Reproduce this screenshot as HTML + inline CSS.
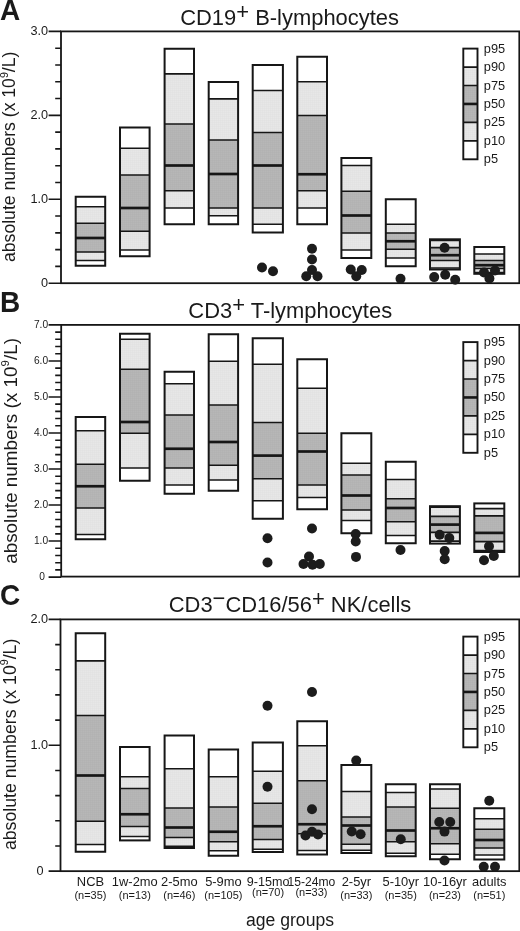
<!DOCTYPE html>
<html lang="en"><head><meta charset="utf-8"><title>Lymphocyte subpopulations by age group</title>
<style>html,body{margin:0;padding:0;background:#fff}body{width:520px;height:931px;overflow:hidden}svg{display:block;filter:grayscale(1)}text{font-family:"Liberation Sans", Arial, Helvetica, sans-serif;fill:#1a1a1a}</style></head><body>
<svg width="520" height="931" viewBox="0 0 520 931">
<rect width="520" height="931" fill="#fff"/>
<defs><pattern id="lg" width="2" height="2" patternUnits="userSpaceOnUse"><rect width="2" height="2" fill="#e7e7e7"/><path d="M0 0.25H2M0.25 0V2" stroke="#dedede" stroke-width="0.5"/></pattern><pattern id="dg" width="2" height="2" patternUnits="userSpaceOnUse"><rect width="2" height="2" fill="#b7b7b7"/><path d="M0 0.25H2M0.25 0V2" stroke="#aeaeae" stroke-width="0.5"/></pattern></defs>
<g id="panel-A">
<rect x="61.00" y="31.40" width="458.30" height="251.80" fill="none" stroke="#161616" stroke-width="1.8"/>
<path d="M48.6 283.20H61.00M55.2 266.41H61.00M55.2 249.63H61.00M55.2 232.84H61.00M55.2 216.05H61.00M48.6 199.27H61.00M55.2 182.48H61.00M55.2 165.69H61.00M55.2 148.91H61.00M55.2 132.12H61.00M48.6 115.33H61.00M55.2 98.55H61.00M55.2 81.76H61.00M55.2 64.97H61.00M55.2 48.19H61.00M48.6 31.40H61.00" stroke="#161616" stroke-width="1.6" fill="none"/>
<text transform="translate(48.10 35.16) scale(1 1.07)" font-size="12.7" text-anchor="end">3.0</text>
<text transform="translate(48.10 119.10) scale(1 1.07)" font-size="12.7" text-anchor="end">2.0</text>
<text transform="translate(48.10 203.03) scale(1 1.07)" font-size="12.7" text-anchor="end">1.0</text>
<text transform="translate(48.10 286.96) scale(1 1.07)" font-size="12.7" text-anchor="end">0</text>
<rect x="75.70" y="196.75" width="29.50" height="10.00" fill="#fff"/>
<rect x="75.70" y="206.75" width="29.50" height="16.50" fill="url(#lg)"/>
<rect x="75.70" y="223.25" width="29.50" height="14.75" fill="url(#dg)"/>
<rect x="75.70" y="238.00" width="29.50" height="14.00" fill="url(#dg)"/>
<rect x="75.70" y="252.00" width="29.50" height="8.50" fill="url(#lg)"/>
<rect x="75.70" y="260.50" width="29.50" height="5.25" fill="#fff"/>
<path d="M75.70 206.75h29.50M75.70 223.25h29.50M75.70 252.00h29.50M75.70 260.50h29.50" stroke="#161616" stroke-width="1.7" fill="none"/>
<path d="M75.70 238.00h29.50" stroke="#161616" stroke-width="2.7" fill="none"/>
<rect x="75.70" y="196.75" width="29.50" height="69.00" fill="none" stroke="#161616" stroke-width="2"/>
<rect x="120.00" y="127.50" width="29.60" height="20.75" fill="#fff"/>
<rect x="120.00" y="148.25" width="29.60" height="26.75" fill="url(#lg)"/>
<rect x="120.00" y="175.00" width="29.60" height="33.00" fill="url(#dg)"/>
<rect x="120.00" y="208.00" width="29.60" height="23.25" fill="url(#dg)"/>
<rect x="120.00" y="231.25" width="29.60" height="18.75" fill="url(#lg)"/>
<rect x="120.00" y="250.00" width="29.60" height="6.25" fill="#fff"/>
<path d="M120.00 148.25h29.60M120.00 175.00h29.60M120.00 231.25h29.60M120.00 250.00h29.60" stroke="#161616" stroke-width="1.7" fill="none"/>
<path d="M120.00 208.00h29.60" stroke="#161616" stroke-width="2.7" fill="none"/>
<rect x="120.00" y="127.50" width="29.60" height="128.75" fill="none" stroke="#161616" stroke-width="2"/>
<rect x="164.60" y="48.75" width="29.40" height="25.15" fill="#fff"/>
<rect x="164.60" y="73.90" width="29.40" height="50.10" fill="url(#lg)"/>
<rect x="164.60" y="124.00" width="29.40" height="41.50" fill="url(#dg)"/>
<rect x="164.60" y="165.50" width="29.40" height="25.25" fill="url(#dg)"/>
<rect x="164.60" y="190.75" width="29.40" height="17.25" fill="url(#lg)"/>
<rect x="164.60" y="208.00" width="29.40" height="16.25" fill="#fff"/>
<path d="M164.60 73.90h29.40M164.60 124.00h29.40M164.60 190.75h29.40M164.60 208.00h29.40" stroke="#161616" stroke-width="1.7" fill="none"/>
<path d="M164.60 165.50h29.40" stroke="#161616" stroke-width="2.7" fill="none"/>
<rect x="164.60" y="48.75" width="29.40" height="175.50" fill="none" stroke="#161616" stroke-width="2"/>
<rect x="208.70" y="82.00" width="29.40" height="16.80" fill="#fff"/>
<rect x="208.70" y="98.80" width="29.40" height="41.20" fill="url(#lg)"/>
<rect x="208.70" y="140.00" width="29.40" height="34.00" fill="url(#dg)"/>
<rect x="208.70" y="174.00" width="29.40" height="34.00" fill="url(#dg)"/>
<rect x="208.70" y="208.00" width="29.40" height="7.75" fill="url(#lg)"/>
<rect x="208.70" y="215.75" width="29.40" height="8.50" fill="#fff"/>
<path d="M208.70 98.80h29.40M208.70 140.00h29.40M208.70 208.00h29.40M208.70 215.75h29.40" stroke="#161616" stroke-width="1.7" fill="none"/>
<path d="M208.70 174.00h29.40" stroke="#161616" stroke-width="2.7" fill="none"/>
<rect x="208.70" y="82.00" width="29.40" height="142.25" fill="none" stroke="#161616" stroke-width="2"/>
<rect x="252.70" y="65.00" width="30.20" height="25.50" fill="#fff"/>
<rect x="252.70" y="90.50" width="30.20" height="42.00" fill="url(#lg)"/>
<rect x="252.70" y="132.50" width="30.20" height="33.00" fill="url(#dg)"/>
<rect x="252.70" y="165.50" width="30.20" height="42.50" fill="url(#dg)"/>
<rect x="252.70" y="208.00" width="30.20" height="16.25" fill="url(#lg)"/>
<rect x="252.70" y="224.25" width="30.20" height="8.25" fill="#fff"/>
<path d="M252.70 90.50h30.20M252.70 132.50h30.20M252.70 208.00h30.20M252.70 224.25h30.20" stroke="#161616" stroke-width="1.7" fill="none"/>
<path d="M252.70 165.50h30.20" stroke="#161616" stroke-width="2.7" fill="none"/>
<rect x="252.70" y="65.00" width="30.20" height="167.50" fill="none" stroke="#161616" stroke-width="2"/>
<rect x="297.30" y="56.75" width="29.70" height="25.00" fill="#fff"/>
<rect x="297.30" y="81.75" width="29.70" height="33.75" fill="url(#lg)"/>
<rect x="297.30" y="115.50" width="29.70" height="58.75" fill="url(#dg)"/>
<rect x="297.30" y="174.25" width="29.70" height="16.50" fill="url(#dg)"/>
<rect x="297.30" y="190.75" width="29.70" height="17.25" fill="url(#lg)"/>
<rect x="297.30" y="208.00" width="29.70" height="16.25" fill="#fff"/>
<path d="M297.30 81.75h29.70M297.30 115.50h29.70M297.30 190.75h29.70M297.30 208.00h29.70" stroke="#161616" stroke-width="1.7" fill="none"/>
<path d="M297.30 174.25h29.70" stroke="#161616" stroke-width="2.7" fill="none"/>
<rect x="297.30" y="56.75" width="29.70" height="167.50" fill="none" stroke="#161616" stroke-width="2"/>
<rect x="341.40" y="158.00" width="29.90" height="7.50" fill="#fff"/>
<rect x="341.40" y="165.50" width="29.90" height="25.75" fill="url(#lg)"/>
<rect x="341.40" y="191.25" width="29.90" height="24.25" fill="url(#dg)"/>
<rect x="341.40" y="215.50" width="29.90" height="17.50" fill="url(#dg)"/>
<rect x="341.40" y="233.00" width="29.90" height="17.00" fill="url(#lg)"/>
<rect x="341.40" y="250.00" width="29.90" height="8.00" fill="#fff"/>
<path d="M341.40 165.50h29.90M341.40 191.25h29.90M341.40 233.00h29.90M341.40 250.00h29.90" stroke="#161616" stroke-width="1.7" fill="none"/>
<path d="M341.40 215.50h29.90" stroke="#161616" stroke-width="2.7" fill="none"/>
<rect x="341.40" y="158.00" width="29.90" height="100.00" fill="none" stroke="#161616" stroke-width="2"/>
<rect x="385.80" y="199.25" width="29.90" height="25.00" fill="#fff"/>
<rect x="385.80" y="224.25" width="29.90" height="8.75" fill="url(#lg)"/>
<rect x="385.80" y="233.00" width="29.90" height="8.25" fill="url(#dg)"/>
<rect x="385.80" y="241.25" width="29.90" height="8.00" fill="url(#dg)"/>
<rect x="385.80" y="249.25" width="29.90" height="8.75" fill="url(#lg)"/>
<rect x="385.80" y="258.00" width="29.90" height="8.25" fill="#fff"/>
<path d="M385.80 224.25h29.90M385.80 233.00h29.90M385.80 249.25h29.90M385.80 258.00h29.90" stroke="#161616" stroke-width="1.7" fill="none"/>
<path d="M385.80 241.25h29.90" stroke="#161616" stroke-width="2.7" fill="none"/>
<rect x="385.80" y="199.25" width="29.90" height="67.00" fill="none" stroke="#161616" stroke-width="2"/>
<rect x="430.00" y="239.30" width="29.90" height="1.20" fill="#fff"/>
<rect x="430.00" y="240.50" width="29.90" height="7.20" fill="url(#lg)"/>
<rect x="430.00" y="247.70" width="29.90" height="7.50" fill="url(#dg)"/>
<rect x="430.00" y="255.20" width="29.90" height="5.30" fill="url(#dg)"/>
<rect x="430.00" y="260.50" width="29.90" height="7.50" fill="url(#lg)"/>
<rect x="430.00" y="268.00" width="29.90" height="1.50" fill="#fff"/>
<path d="M430.00 240.50h29.90M430.00 247.70h29.90M430.00 260.50h29.90M430.00 268.00h29.90" stroke="#161616" stroke-width="1.7" fill="none"/>
<path d="M430.00 255.20h29.90" stroke="#161616" stroke-width="2.7" fill="none"/>
<rect x="430.00" y="239.30" width="29.90" height="30.20" fill="none" stroke="#161616" stroke-width="2"/>
<rect x="474.30" y="247.00" width="30.00" height="7.00" fill="#fff"/>
<rect x="474.30" y="254.00" width="30.00" height="6.50" fill="url(#lg)"/>
<rect x="474.30" y="260.50" width="30.00" height="4.70" fill="url(#dg)"/>
<rect x="474.30" y="265.20" width="30.00" height="3.30" fill="url(#dg)"/>
<rect x="474.30" y="268.50" width="30.00" height="4.00" fill="url(#lg)"/>
<rect x="474.30" y="272.50" width="30.00" height="1.30" fill="#fff"/>
<path d="M474.30 254.00h30.00M474.30 260.50h30.00M474.30 268.50h30.00M474.30 272.50h30.00" stroke="#161616" stroke-width="1.7" fill="none"/>
<path d="M474.30 265.20h30.00" stroke="#161616" stroke-width="2.7" fill="none"/>
<rect x="474.30" y="247.00" width="30.00" height="26.80" fill="none" stroke="#161616" stroke-width="2"/>
<circle cx="262.00" cy="267.50" r="5" fill="#1c1c1c"/>
<circle cx="273.00" cy="271.25" r="5" fill="#1c1c1c"/>
<circle cx="312.00" cy="248.75" r="5" fill="#1c1c1c"/>
<circle cx="312.00" cy="259.50" r="5" fill="#1c1c1c"/>
<circle cx="312.00" cy="270.00" r="5" fill="#1c1c1c"/>
<circle cx="306.25" cy="276.25" r="5" fill="#1c1c1c"/>
<circle cx="317.50" cy="276.25" r="5" fill="#1c1c1c"/>
<circle cx="350.75" cy="269.50" r="5" fill="#1c1c1c"/>
<circle cx="361.75" cy="270.00" r="5" fill="#1c1c1c"/>
<circle cx="356.25" cy="276.25" r="5" fill="#1c1c1c"/>
<circle cx="400.50" cy="278.75" r="5" fill="#1c1c1c"/>
<circle cx="444.60" cy="247.80" r="5" fill="#1c1c1c"/>
<circle cx="434.20" cy="277.10" r="5" fill="#1c1c1c"/>
<circle cx="445.20" cy="274.80" r="5" fill="#1c1c1c"/>
<circle cx="455.20" cy="279.80" r="5" fill="#1c1c1c"/>
<circle cx="484.00" cy="272.50" r="5" fill="#1c1c1c"/>
<circle cx="495.00" cy="270.50" r="5" fill="#1c1c1c"/>
<circle cx="489.40" cy="278.40" r="5" fill="#1c1c1c"/>
<rect x="463.30" y="48.60" width="14.20" height="18.45" fill="#fff"/>
<rect x="463.30" y="67.05" width="14.20" height="18.45" fill="url(#lg)"/>
<rect x="463.30" y="85.50" width="14.20" height="18.45" fill="url(#dg)"/>
<rect x="463.30" y="103.95" width="14.20" height="18.45" fill="url(#dg)"/>
<rect x="463.30" y="122.40" width="14.20" height="18.45" fill="url(#lg)"/>
<rect x="463.30" y="140.85" width="14.20" height="18.45" fill="#fff"/>
<path d="M463.30 67.05h14.20M463.30 85.50h14.20M463.30 122.40h14.20M463.30 140.85h14.20" stroke="#161616" stroke-width="1.7" fill="none"/>
<path d="M463.30 103.95h14.20" stroke="#161616" stroke-width="2.6" fill="none"/>
<rect x="463.30" y="48.60" width="14.20" height="110.70" fill="none" stroke="#161616" stroke-width="1.9"/>
<text transform="translate(483.8 52.60) scale(1 1.05)" font-size="12.8">p95</text>
<text transform="translate(483.8 71.05) scale(1 1.05)" font-size="12.8">p90</text>
<text transform="translate(483.8 89.50) scale(1 1.05)" font-size="12.8">p75</text>
<text transform="translate(483.8 107.95) scale(1 1.05)" font-size="12.8">p50</text>
<text transform="translate(483.8 126.40) scale(1 1.05)" font-size="12.8">p25</text>
<text transform="translate(483.8 144.85) scale(1 1.05)" font-size="12.8">p10</text>
<text transform="translate(483.8 163.30) scale(1 1.05)" font-size="12.8">p5</text>
<text transform="translate(15.40 156.80) rotate(-90)" font-size="17.6" text-anchor="middle">absolute numbers (x 10<tspan font-size="10.6" dy="-7.6">9</tspan><tspan dy="7.6">/L)</tspan></text>
</g>
<g id="panel-B">
<rect x="61.20" y="324.90" width="458.10" height="251.70" fill="none" stroke="#161616" stroke-width="1.8"/>
<path d="M48.6 577.10H61.20M55.2 569.89H61.20M55.2 562.69H61.20M55.2 555.48H61.20M55.2 548.28H61.20M48.6 541.07H61.20M55.2 533.87H61.20M55.2 526.66H61.20M55.2 519.45H61.20M55.2 512.25H61.20M48.6 505.04H61.20M55.2 497.84H61.20M55.2 490.63H61.20M55.2 483.43H61.20M55.2 476.22H61.20M48.6 469.01H61.20M55.2 461.81H61.20M55.2 454.60H61.20M55.2 447.40H61.20M55.2 440.19H61.20M48.6 432.99H61.20M55.2 425.78H61.20M55.2 418.57H61.20M55.2 411.37H61.20M55.2 404.16H61.20M48.6 396.96H61.20M55.2 389.75H61.20M55.2 382.55H61.20M55.2 375.34H61.20M55.2 368.13H61.20M48.6 360.93H61.20M55.2 353.72H61.20M55.2 346.52H61.20M55.2 339.31H61.20M55.2 332.11H61.20M48.6 324.90H61.20" stroke="#161616" stroke-width="1.6" fill="none"/>
<text transform="translate(48.10 327.71) scale(1 1.07)" font-size="10.2" text-anchor="end">7.0</text>
<text transform="translate(48.10 363.74) scale(1 1.07)" font-size="10.2" text-anchor="end">6.0</text>
<text transform="translate(48.10 399.76) scale(1 1.07)" font-size="10.2" text-anchor="end">5.0</text>
<text transform="translate(48.10 435.79) scale(1 1.07)" font-size="10.2" text-anchor="end">4.0</text>
<text transform="translate(48.10 471.82) scale(1 1.07)" font-size="10.2" text-anchor="end">3.0</text>
<text transform="translate(48.10 507.85) scale(1 1.07)" font-size="10.2" text-anchor="end">2.0</text>
<text transform="translate(48.10 543.88) scale(1 1.07)" font-size="10.2" text-anchor="end">1.0</text>
<text transform="translate(44.80 579.91) scale(1 1.07)" font-size="10.2" text-anchor="end">0</text>
<rect x="75.70" y="417.00" width="29.50" height="13.75" fill="#fff"/>
<rect x="75.70" y="430.75" width="29.50" height="33.50" fill="url(#lg)"/>
<rect x="75.70" y="464.25" width="29.50" height="22.00" fill="url(#dg)"/>
<rect x="75.70" y="486.25" width="29.50" height="21.75" fill="url(#dg)"/>
<rect x="75.70" y="508.00" width="29.50" height="26.50" fill="url(#lg)"/>
<rect x="75.70" y="534.50" width="29.50" height="4.75" fill="#fff"/>
<path d="M75.70 430.75h29.50M75.70 464.25h29.50M75.70 508.00h29.50M75.70 534.50h29.50" stroke="#161616" stroke-width="1.7" fill="none"/>
<path d="M75.70 486.25h29.50" stroke="#161616" stroke-width="2.7" fill="none"/>
<rect x="75.70" y="417.00" width="29.50" height="122.25" fill="none" stroke="#161616" stroke-width="2"/>
<rect x="120.00" y="333.75" width="29.60" height="5.50" fill="#fff"/>
<rect x="120.00" y="339.25" width="29.60" height="30.00" fill="url(#lg)"/>
<rect x="120.00" y="369.25" width="29.60" height="52.75" fill="url(#dg)"/>
<rect x="120.00" y="422.00" width="29.60" height="11.25" fill="url(#dg)"/>
<rect x="120.00" y="433.25" width="29.60" height="34.75" fill="url(#lg)"/>
<rect x="120.00" y="468.00" width="29.60" height="12.75" fill="#fff"/>
<path d="M120.00 339.25h29.60M120.00 369.25h29.60M120.00 433.25h29.60M120.00 468.00h29.60" stroke="#161616" stroke-width="1.7" fill="none"/>
<path d="M120.00 422.00h29.60" stroke="#161616" stroke-width="2.7" fill="none"/>
<rect x="120.00" y="333.75" width="29.60" height="147.00" fill="none" stroke="#161616" stroke-width="2"/>
<rect x="164.60" y="371.75" width="29.40" height="12.00" fill="#fff"/>
<rect x="164.60" y="383.75" width="29.40" height="31.25" fill="url(#lg)"/>
<rect x="164.60" y="415.00" width="29.40" height="33.75" fill="url(#dg)"/>
<rect x="164.60" y="448.75" width="29.40" height="19.25" fill="url(#dg)"/>
<rect x="164.60" y="468.00" width="29.40" height="17.00" fill="url(#lg)"/>
<rect x="164.60" y="485.00" width="29.40" height="8.75" fill="#fff"/>
<path d="M164.60 383.75h29.40M164.60 415.00h29.40M164.60 468.00h29.40M164.60 485.00h29.40" stroke="#161616" stroke-width="1.7" fill="none"/>
<path d="M164.60 448.75h29.40" stroke="#161616" stroke-width="2.7" fill="none"/>
<rect x="164.60" y="371.75" width="29.40" height="122.00" fill="none" stroke="#161616" stroke-width="2"/>
<rect x="208.70" y="334.25" width="29.40" height="27.00" fill="#fff"/>
<rect x="208.70" y="361.25" width="29.40" height="43.75" fill="url(#lg)"/>
<rect x="208.70" y="405.00" width="29.40" height="37.00" fill="url(#dg)"/>
<rect x="208.70" y="442.00" width="29.40" height="23.25" fill="url(#dg)"/>
<rect x="208.70" y="465.25" width="29.40" height="14.75" fill="url(#lg)"/>
<rect x="208.70" y="480.00" width="29.40" height="10.75" fill="#fff"/>
<path d="M208.70 361.25h29.40M208.70 405.00h29.40M208.70 465.25h29.40M208.70 480.00h29.40" stroke="#161616" stroke-width="1.7" fill="none"/>
<path d="M208.70 442.00h29.40" stroke="#161616" stroke-width="2.7" fill="none"/>
<rect x="208.70" y="334.25" width="29.40" height="156.50" fill="none" stroke="#161616" stroke-width="2"/>
<rect x="252.70" y="338.25" width="30.20" height="26.00" fill="#fff"/>
<rect x="252.70" y="364.25" width="30.20" height="58.25" fill="url(#lg)"/>
<rect x="252.70" y="422.50" width="30.20" height="33.10" fill="url(#dg)"/>
<rect x="252.70" y="455.60" width="30.20" height="23.15" fill="url(#dg)"/>
<rect x="252.70" y="478.75" width="30.20" height="22.00" fill="url(#lg)"/>
<rect x="252.70" y="500.75" width="30.20" height="18.00" fill="#fff"/>
<path d="M252.70 364.25h30.20M252.70 422.50h30.20M252.70 478.75h30.20M252.70 500.75h30.20" stroke="#161616" stroke-width="1.7" fill="none"/>
<path d="M252.70 455.60h30.20" stroke="#161616" stroke-width="2.7" fill="none"/>
<rect x="252.70" y="338.25" width="30.20" height="180.50" fill="none" stroke="#161616" stroke-width="2"/>
<rect x="297.30" y="359.25" width="29.70" height="29.00" fill="#fff"/>
<rect x="297.30" y="388.25" width="29.70" height="45.00" fill="url(#lg)"/>
<rect x="297.30" y="433.25" width="29.70" height="18.25" fill="url(#dg)"/>
<rect x="297.30" y="451.50" width="29.70" height="33.50" fill="url(#dg)"/>
<rect x="297.30" y="485.00" width="29.70" height="12.50" fill="url(#lg)"/>
<rect x="297.30" y="497.50" width="29.70" height="11.75" fill="#fff"/>
<path d="M297.30 388.25h29.70M297.30 433.25h29.70M297.30 485.00h29.70M297.30 497.50h29.70" stroke="#161616" stroke-width="1.7" fill="none"/>
<path d="M297.30 451.50h29.70" stroke="#161616" stroke-width="2.7" fill="none"/>
<rect x="297.30" y="359.25" width="29.70" height="150.00" fill="none" stroke="#161616" stroke-width="2"/>
<rect x="341.40" y="433.25" width="29.90" height="30.00" fill="#fff"/>
<rect x="341.40" y="463.25" width="29.90" height="11.75" fill="url(#lg)"/>
<rect x="341.40" y="475.00" width="29.90" height="20.50" fill="url(#dg)"/>
<rect x="341.40" y="495.50" width="29.90" height="14.50" fill="url(#dg)"/>
<rect x="341.40" y="510.00" width="29.90" height="10.50" fill="url(#lg)"/>
<rect x="341.40" y="520.50" width="29.90" height="12.75" fill="#fff"/>
<path d="M341.40 463.25h29.90M341.40 475.00h29.90M341.40 510.00h29.90M341.40 520.50h29.90" stroke="#161616" stroke-width="1.7" fill="none"/>
<path d="M341.40 495.50h29.90" stroke="#161616" stroke-width="2.7" fill="none"/>
<rect x="341.40" y="433.25" width="29.90" height="100.00" fill="none" stroke="#161616" stroke-width="2"/>
<rect x="385.80" y="461.75" width="29.90" height="17.75" fill="#fff"/>
<rect x="385.80" y="479.50" width="29.90" height="19.25" fill="url(#lg)"/>
<rect x="385.80" y="498.75" width="29.90" height="9.25" fill="url(#dg)"/>
<rect x="385.80" y="508.00" width="29.90" height="13.75" fill="url(#dg)"/>
<rect x="385.80" y="521.75" width="29.90" height="13.75" fill="url(#lg)"/>
<rect x="385.80" y="535.50" width="29.90" height="7.75" fill="#fff"/>
<path d="M385.80 479.50h29.90M385.80 498.75h29.90M385.80 521.75h29.90M385.80 535.50h29.90" stroke="#161616" stroke-width="1.7" fill="none"/>
<path d="M385.80 508.00h29.90" stroke="#161616" stroke-width="2.7" fill="none"/>
<rect x="385.80" y="461.75" width="29.90" height="81.50" fill="none" stroke="#161616" stroke-width="2"/>
<rect x="430.00" y="506.20" width="29.90" height="1.00" fill="#fff"/>
<rect x="430.00" y="507.20" width="29.90" height="9.10" fill="url(#lg)"/>
<rect x="430.00" y="516.30" width="29.90" height="8.30" fill="url(#dg)"/>
<rect x="430.00" y="524.60" width="29.90" height="7.80" fill="url(#dg)"/>
<rect x="430.00" y="532.40" width="29.90" height="8.80" fill="url(#lg)"/>
<rect x="430.00" y="541.20" width="29.90" height="2.40" fill="#fff"/>
<path d="M430.00 507.20h29.90M430.00 516.30h29.90M430.00 532.40h29.90M430.00 541.20h29.90" stroke="#161616" stroke-width="1.7" fill="none"/>
<path d="M430.00 524.60h29.90" stroke="#161616" stroke-width="2.7" fill="none"/>
<rect x="430.00" y="506.20" width="29.90" height="37.40" fill="none" stroke="#161616" stroke-width="2"/>
<rect x="474.30" y="503.40" width="30.00" height="5.20" fill="#fff"/>
<rect x="474.30" y="508.60" width="30.00" height="7.30" fill="url(#lg)"/>
<rect x="474.30" y="515.90" width="30.00" height="17.00" fill="url(#dg)"/>
<rect x="474.30" y="532.90" width="30.00" height="8.70" fill="url(#dg)"/>
<rect x="474.30" y="541.60" width="30.00" height="8.90" fill="url(#lg)"/>
<rect x="474.30" y="550.50" width="30.00" height="1.50" fill="#fff"/>
<path d="M474.30 508.60h30.00M474.30 515.90h30.00M474.30 541.60h30.00M474.30 550.50h30.00" stroke="#161616" stroke-width="1.7" fill="none"/>
<path d="M474.30 532.90h30.00" stroke="#161616" stroke-width="2.7" fill="none"/>
<rect x="474.30" y="503.40" width="30.00" height="48.60" fill="none" stroke="#161616" stroke-width="2"/>
<circle cx="267.50" cy="538.25" r="5" fill="#1c1c1c"/>
<circle cx="267.50" cy="562.50" r="5" fill="#1c1c1c"/>
<circle cx="312.00" cy="528.50" r="5" fill="#1c1c1c"/>
<circle cx="309.00" cy="556.50" r="5" fill="#1c1c1c"/>
<circle cx="303.50" cy="564.00" r="5" fill="#1c1c1c"/>
<circle cx="312.50" cy="564.80" r="5" fill="#1c1c1c"/>
<circle cx="319.80" cy="564.00" r="5" fill="#1c1c1c"/>
<circle cx="355.70" cy="534.00" r="5" fill="#1c1c1c"/>
<circle cx="355.70" cy="541.50" r="5" fill="#1c1c1c"/>
<circle cx="356.00" cy="556.90" r="5" fill="#1c1c1c"/>
<circle cx="400.50" cy="550.00" r="5" fill="#1c1c1c"/>
<circle cx="439.70" cy="534.80" r="5" fill="#1c1c1c"/>
<circle cx="449.30" cy="538.10" r="5" fill="#1c1c1c"/>
<circle cx="444.70" cy="551.00" r="5" fill="#1c1c1c"/>
<circle cx="444.70" cy="559.30" r="5" fill="#1c1c1c"/>
<circle cx="489.00" cy="546.20" r="5" fill="#1c1c1c"/>
<circle cx="493.80" cy="556.00" r="5" fill="#1c1c1c"/>
<circle cx="484.00" cy="560.20" r="5" fill="#1c1c1c"/>
<rect x="463.30" y="342.10" width="14.20" height="18.45" fill="#fff"/>
<rect x="463.30" y="360.55" width="14.20" height="18.45" fill="url(#lg)"/>
<rect x="463.30" y="379.00" width="14.20" height="18.45" fill="url(#dg)"/>
<rect x="463.30" y="397.45" width="14.20" height="18.45" fill="url(#dg)"/>
<rect x="463.30" y="415.90" width="14.20" height="18.45" fill="url(#lg)"/>
<rect x="463.30" y="434.35" width="14.20" height="18.45" fill="#fff"/>
<path d="M463.30 360.55h14.20M463.30 379.00h14.20M463.30 415.90h14.20M463.30 434.35h14.20" stroke="#161616" stroke-width="1.7" fill="none"/>
<path d="M463.30 397.45h14.20" stroke="#161616" stroke-width="2.6" fill="none"/>
<rect x="463.30" y="342.10" width="14.20" height="110.70" fill="none" stroke="#161616" stroke-width="1.9"/>
<text transform="translate(483.8 346.10) scale(1 1.05)" font-size="12.8">p95</text>
<text transform="translate(483.8 364.55) scale(1 1.05)" font-size="12.8">p90</text>
<text transform="translate(483.8 383.00) scale(1 1.05)" font-size="12.8">p75</text>
<text transform="translate(483.8 401.45) scale(1 1.05)" font-size="12.8">p50</text>
<text transform="translate(483.8 419.90) scale(1 1.05)" font-size="12.8">p25</text>
<text transform="translate(483.8 438.35) scale(1 1.05)" font-size="12.8">p10</text>
<text transform="translate(483.8 456.80) scale(1 1.05)" font-size="12.8">p5</text>
<text transform="translate(16.60 450.95) rotate(-90)" font-size="18.9" text-anchor="middle">absolute numbers (x 10<tspan font-size="11.4" dy="-8.1">9</tspan><tspan dy="8.1">/L)</tspan></text>
</g>
<g id="panel-C">
<rect x="60.50" y="619.40" width="458.80" height="251.75" fill="none" stroke="#161616" stroke-width="1.8"/>
<path d="M48.6 871.15H60.50M55.2 845.98H60.50M55.2 820.80H60.50M55.2 795.62H60.50M55.2 770.45H60.50M48.6 745.27H60.50M55.2 720.10H60.50M55.2 694.92H60.50M55.2 669.75H60.50M55.2 644.58H60.50M48.6 619.40H60.50" stroke="#161616" stroke-width="1.6" fill="none"/>
<text transform="translate(48.10 623.16) scale(1 1.07)" font-size="12.7" text-anchor="end">2.0</text>
<text transform="translate(48.10 749.04) scale(1 1.07)" font-size="12.7" text-anchor="end">1.0</text>
<text transform="translate(43.60 874.91) scale(1 1.07)" font-size="12.7" text-anchor="end">0</text>
<rect x="75.70" y="633.25" width="29.50" height="27.65" fill="#fff"/>
<rect x="75.70" y="660.90" width="29.50" height="54.60" fill="url(#lg)"/>
<rect x="75.70" y="715.50" width="29.50" height="60.00" fill="url(#dg)"/>
<rect x="75.70" y="775.50" width="29.50" height="45.75" fill="url(#dg)"/>
<rect x="75.70" y="821.25" width="29.50" height="23.25" fill="url(#lg)"/>
<rect x="75.70" y="844.50" width="29.50" height="7.25" fill="#fff"/>
<path d="M75.70 660.90h29.50M75.70 715.50h29.50M75.70 821.25h29.50M75.70 844.50h29.50" stroke="#161616" stroke-width="1.7" fill="none"/>
<path d="M75.70 775.50h29.50" stroke="#161616" stroke-width="2.7" fill="none"/>
<rect x="75.70" y="633.25" width="29.50" height="218.50" fill="none" stroke="#161616" stroke-width="2"/>
<rect x="120.00" y="747.00" width="29.60" height="29.75" fill="#fff"/>
<rect x="120.00" y="776.75" width="29.60" height="11.75" fill="url(#lg)"/>
<rect x="120.00" y="788.50" width="29.60" height="25.75" fill="url(#dg)"/>
<rect x="120.00" y="814.25" width="29.60" height="12.25" fill="url(#dg)"/>
<rect x="120.00" y="826.50" width="29.60" height="10.00" fill="url(#lg)"/>
<rect x="120.00" y="836.50" width="29.60" height="3.90" fill="#fff"/>
<path d="M120.00 776.75h29.60M120.00 788.50h29.60M120.00 826.50h29.60M120.00 836.50h29.60" stroke="#161616" stroke-width="1.7" fill="none"/>
<path d="M120.00 814.25h29.60" stroke="#161616" stroke-width="2.7" fill="none"/>
<rect x="120.00" y="747.00" width="29.60" height="93.40" fill="none" stroke="#161616" stroke-width="2"/>
<rect x="164.60" y="735.50" width="29.40" height="33.25" fill="#fff"/>
<rect x="164.60" y="768.75" width="29.40" height="39.25" fill="url(#lg)"/>
<rect x="164.60" y="808.00" width="29.40" height="19.50" fill="url(#dg)"/>
<rect x="164.60" y="827.50" width="29.40" height="10.00" fill="url(#dg)"/>
<rect x="164.60" y="837.50" width="29.40" height="8.75" fill="url(#lg)"/>
<rect x="164.60" y="846.25" width="29.40" height="1.75" fill="#fff"/>
<path d="M164.60 768.75h29.40M164.60 808.00h29.40M164.60 837.50h29.40M164.60 846.25h29.40" stroke="#161616" stroke-width="1.7" fill="none"/>
<path d="M164.60 827.50h29.40" stroke="#161616" stroke-width="2.7" fill="none"/>
<rect x="164.60" y="735.50" width="29.40" height="112.50" fill="none" stroke="#161616" stroke-width="2"/>
<rect x="208.70" y="749.50" width="29.40" height="27.25" fill="#fff"/>
<rect x="208.70" y="776.75" width="29.40" height="30.25" fill="url(#lg)"/>
<rect x="208.70" y="807.00" width="29.40" height="24.75" fill="url(#dg)"/>
<rect x="208.70" y="831.75" width="29.40" height="10.00" fill="url(#dg)"/>
<rect x="208.70" y="841.75" width="29.40" height="9.00" fill="url(#lg)"/>
<rect x="208.70" y="850.75" width="29.40" height="5.00" fill="#fff"/>
<path d="M208.70 776.75h29.40M208.70 807.00h29.40M208.70 841.75h29.40M208.70 850.75h29.40" stroke="#161616" stroke-width="1.7" fill="none"/>
<path d="M208.70 831.75h29.40" stroke="#161616" stroke-width="2.7" fill="none"/>
<rect x="208.70" y="749.50" width="29.40" height="106.25" fill="none" stroke="#161616" stroke-width="2"/>
<rect x="252.70" y="742.50" width="30.20" height="28.75" fill="#fff"/>
<rect x="252.70" y="771.25" width="30.20" height="32.00" fill="url(#lg)"/>
<rect x="252.70" y="803.25" width="30.20" height="23.00" fill="url(#dg)"/>
<rect x="252.70" y="826.25" width="30.20" height="13.25" fill="url(#dg)"/>
<rect x="252.70" y="839.50" width="30.20" height="9.75" fill="url(#lg)"/>
<rect x="252.70" y="849.25" width="30.20" height="2.75" fill="#fff"/>
<path d="M252.70 771.25h30.20M252.70 803.25h30.20M252.70 839.50h30.20M252.70 849.25h30.20" stroke="#161616" stroke-width="1.7" fill="none"/>
<path d="M252.70 826.25h30.20" stroke="#161616" stroke-width="2.7" fill="none"/>
<rect x="252.70" y="742.50" width="30.20" height="109.50" fill="none" stroke="#161616" stroke-width="2"/>
<rect x="297.30" y="721.25" width="29.70" height="24.50" fill="#fff"/>
<rect x="297.30" y="745.75" width="29.70" height="35.00" fill="url(#lg)"/>
<rect x="297.30" y="780.75" width="29.70" height="43.50" fill="url(#dg)"/>
<rect x="297.30" y="824.25" width="29.70" height="9.50" fill="url(#dg)"/>
<rect x="297.30" y="833.75" width="29.70" height="16.75" fill="url(#lg)"/>
<rect x="297.30" y="850.50" width="29.70" height="4.00" fill="#fff"/>
<path d="M297.30 745.75h29.70M297.30 780.75h29.70M297.30 833.75h29.70M297.30 850.50h29.70" stroke="#161616" stroke-width="1.7" fill="none"/>
<path d="M297.30 824.25h29.70" stroke="#161616" stroke-width="2.7" fill="none"/>
<rect x="297.30" y="721.25" width="29.70" height="133.25" fill="none" stroke="#161616" stroke-width="2"/>
<rect x="341.40" y="765.00" width="29.90" height="26.50" fill="#fff"/>
<rect x="341.40" y="791.50" width="29.90" height="25.50" fill="url(#lg)"/>
<rect x="341.40" y="817.00" width="29.90" height="8.50" fill="url(#dg)"/>
<rect x="341.40" y="825.50" width="29.90" height="18.75" fill="url(#dg)"/>
<rect x="341.40" y="844.25" width="29.90" height="6.00" fill="url(#lg)"/>
<rect x="341.40" y="850.25" width="29.90" height="2.75" fill="#fff"/>
<path d="M341.40 791.50h29.90M341.40 817.00h29.90M341.40 844.25h29.90M341.40 850.25h29.90" stroke="#161616" stroke-width="1.7" fill="none"/>
<path d="M341.40 825.50h29.90" stroke="#161616" stroke-width="2.7" fill="none"/>
<rect x="341.40" y="765.00" width="29.90" height="88.00" fill="none" stroke="#161616" stroke-width="2"/>
<rect x="385.80" y="784.25" width="29.90" height="8.25" fill="#fff"/>
<rect x="385.80" y="792.50" width="29.90" height="14.50" fill="url(#lg)"/>
<rect x="385.80" y="807.00" width="29.90" height="23.50" fill="url(#dg)"/>
<rect x="385.80" y="830.50" width="29.90" height="11.25" fill="url(#dg)"/>
<rect x="385.80" y="841.75" width="29.90" height="11.50" fill="url(#lg)"/>
<rect x="385.80" y="853.25" width="29.90" height="3.00" fill="#fff"/>
<path d="M385.80 792.50h29.90M385.80 807.00h29.90M385.80 841.75h29.90M385.80 853.25h29.90" stroke="#161616" stroke-width="1.7" fill="none"/>
<path d="M385.80 830.50h29.90" stroke="#161616" stroke-width="2.7" fill="none"/>
<rect x="385.80" y="784.25" width="29.90" height="72.00" fill="none" stroke="#161616" stroke-width="2"/>
<rect x="430.00" y="784.25" width="29.90" height="4.75" fill="#fff"/>
<rect x="430.00" y="789.00" width="29.90" height="19.25" fill="url(#lg)"/>
<rect x="430.00" y="808.25" width="29.90" height="20.00" fill="url(#dg)"/>
<rect x="430.00" y="828.25" width="29.90" height="15.50" fill="url(#dg)"/>
<rect x="430.00" y="843.75" width="29.90" height="10.50" fill="url(#lg)"/>
<rect x="430.00" y="854.25" width="29.90" height="5.00" fill="#fff"/>
<path d="M430.00 789.00h29.90M430.00 808.25h29.90M430.00 843.75h29.90M430.00 854.25h29.90" stroke="#161616" stroke-width="1.7" fill="none"/>
<path d="M430.00 828.25h29.90" stroke="#161616" stroke-width="2.7" fill="none"/>
<rect x="430.00" y="784.25" width="29.90" height="75.00" fill="none" stroke="#161616" stroke-width="2"/>
<rect x="474.30" y="808.25" width="30.00" height="10.50" fill="#fff"/>
<rect x="474.30" y="818.75" width="30.00" height="10.50" fill="url(#lg)"/>
<rect x="474.30" y="829.25" width="30.00" height="10.75" fill="url(#dg)"/>
<rect x="474.30" y="840.00" width="30.00" height="8.00" fill="url(#dg)"/>
<rect x="474.30" y="848.00" width="30.00" height="7.00" fill="url(#lg)"/>
<rect x="474.30" y="855.00" width="30.00" height="4.50" fill="#fff"/>
<path d="M474.30 818.75h30.00M474.30 829.25h30.00M474.30 848.00h30.00M474.30 855.00h30.00" stroke="#161616" stroke-width="1.7" fill="none"/>
<path d="M474.30 840.00h30.00" stroke="#161616" stroke-width="2.7" fill="none"/>
<rect x="474.30" y="808.25" width="30.00" height="51.25" fill="none" stroke="#161616" stroke-width="2"/>
<circle cx="267.50" cy="705.75" r="5" fill="#1c1c1c"/>
<circle cx="267.50" cy="786.75" r="5" fill="#1c1c1c"/>
<circle cx="312.00" cy="692.00" r="5" fill="#1c1c1c"/>
<circle cx="312.00" cy="809.25" r="5" fill="#1c1c1c"/>
<circle cx="305.50" cy="835.50" r="5" fill="#1c1c1c"/>
<circle cx="312.00" cy="831.75" r="5" fill="#1c1c1c"/>
<circle cx="318.00" cy="834.50" r="5" fill="#1c1c1c"/>
<circle cx="356.25" cy="760.50" r="5" fill="#1c1c1c"/>
<circle cx="351.75" cy="831.50" r="5" fill="#1c1c1c"/>
<circle cx="360.60" cy="834.25" r="5" fill="#1c1c1c"/>
<circle cx="400.75" cy="839.25" r="5" fill="#1c1c1c"/>
<circle cx="439.25" cy="822.00" r="5" fill="#1c1c1c"/>
<circle cx="450.25" cy="822.00" r="5" fill="#1c1c1c"/>
<circle cx="444.50" cy="831.60" r="5" fill="#1c1c1c"/>
<circle cx="444.50" cy="860.50" r="5" fill="#1c1c1c"/>
<circle cx="489.25" cy="800.75" r="5" fill="#1c1c1c"/>
<circle cx="483.75" cy="866.70" r="5" fill="#1c1c1c"/>
<circle cx="495.00" cy="866.70" r="5" fill="#1c1c1c"/>
<rect x="463.30" y="636.60" width="14.20" height="18.45" fill="#fff"/>
<rect x="463.30" y="655.05" width="14.20" height="18.45" fill="url(#lg)"/>
<rect x="463.30" y="673.50" width="14.20" height="18.45" fill="url(#dg)"/>
<rect x="463.30" y="691.95" width="14.20" height="18.45" fill="url(#dg)"/>
<rect x="463.30" y="710.40" width="14.20" height="18.45" fill="url(#lg)"/>
<rect x="463.30" y="728.85" width="14.20" height="18.45" fill="#fff"/>
<path d="M463.30 655.05h14.20M463.30 673.50h14.20M463.30 710.40h14.20M463.30 728.85h14.20" stroke="#161616" stroke-width="1.7" fill="none"/>
<path d="M463.30 691.95h14.20" stroke="#161616" stroke-width="2.6" fill="none"/>
<rect x="463.30" y="636.60" width="14.20" height="110.70" fill="none" stroke="#161616" stroke-width="1.9"/>
<text transform="translate(483.8 640.60) scale(1 1.05)" font-size="12.8">p95</text>
<text transform="translate(483.8 659.05) scale(1 1.05)" font-size="12.8">p90</text>
<text transform="translate(483.8 677.50) scale(1 1.05)" font-size="12.8">p75</text>
<text transform="translate(483.8 695.95) scale(1 1.05)" font-size="12.8">p50</text>
<text transform="translate(483.8 714.40) scale(1 1.05)" font-size="12.8">p25</text>
<text transform="translate(483.8 732.85) scale(1 1.05)" font-size="12.8">p10</text>
<text transform="translate(483.8 751.30) scale(1 1.05)" font-size="12.8">p5</text>
<text transform="translate(15.50 744.40) rotate(-90)" font-size="17.7" text-anchor="middle">absolute numbers (x 10<tspan font-size="10.6" dy="-7.6">9</tspan><tspan dy="7.6">/L)</tspan></text>
</g>
<text transform="translate(0 19.8) scale(1 1.035)" font-size="28" font-weight="bold" fill="#111">A</text>
<text transform="translate(0 311.8) scale(1 1.035)" font-size="28" font-weight="bold" fill="#111">B</text>
<text transform="translate(0 605.2) scale(1 1.035)" font-size="28" font-weight="bold" fill="#111">C</text>
<text transform="translate(289.6 24.6) scale(1 1.04)" font-size="21.95" text-anchor="middle">CD19<tspan dy="-5.8">+</tspan><tspan dy="5.8"> B-lymphocytes</tspan></text>
<text transform="translate(290.2 317.9) scale(1 1.04)" font-size="21.95" text-anchor="middle">CD3<tspan dy="-5.8">+</tspan><tspan dy="5.8"> T-lymphocytes</tspan></text>
<text transform="translate(290 611.6) scale(1 1.04)" font-size="21.95" text-anchor="middle">CD3<tspan dy="-5.0">−</tspan><tspan dy="5.0">CD16/56</tspan><tspan dy="-5.8">+</tspan><tspan dy="5.8"> NK/cells</tspan></text>
<text transform="translate(90.45 886.3) scale(1.000 1.04)" font-size="12.9" text-anchor="middle">NCB</text>
<text transform="translate(90.45 898.7) scale(1 1.03)" font-size="11" text-anchor="middle">(n=35)</text>
<text transform="translate(134.80 886.3) scale(1.000 1.04)" font-size="12.9" text-anchor="middle">1w-2mo</text>
<text transform="translate(134.80 898.7) scale(1 1.03)" font-size="11" text-anchor="middle">(n=13)</text>
<text transform="translate(179.30 886.3) scale(1.000 1.04)" font-size="12.9" text-anchor="middle">2-5mo</text>
<text transform="translate(179.30 898.7) scale(1 1.03)" font-size="11" text-anchor="middle">(n=46)</text>
<text transform="translate(223.40 886.3) scale(1.000 1.04)" font-size="12.9" text-anchor="middle">5-9mo</text>
<text transform="translate(223.40 898.7) scale(1 1.03)" font-size="11" text-anchor="middle">(n=105)</text>
<text transform="translate(268.10 886.3) scale(0.975 1.04)" font-size="12.9" text-anchor="middle">9-15mo</text>
<text transform="translate(268.10 896.4) scale(1 1.03)" font-size="11" text-anchor="middle">(n=70)</text>
<text transform="translate(311.45 886.3) scale(0.940 1.04)" font-size="12.9" text-anchor="middle">15-24mo</text>
<text transform="translate(311.45 896.4) scale(1 1.03)" font-size="11" text-anchor="middle">(n=33)</text>
<text transform="translate(356.35 886.3) scale(1.000 1.04)" font-size="12.9" text-anchor="middle">2-5yr</text>
<text transform="translate(356.35 898.7) scale(1 1.03)" font-size="11" text-anchor="middle">(n=33)</text>
<text transform="translate(400.75 886.3) scale(1.000 1.04)" font-size="12.9" text-anchor="middle">5-10yr</text>
<text transform="translate(400.75 898.7) scale(1 1.03)" font-size="11" text-anchor="middle">(n=35)</text>
<text transform="translate(444.95 886.3) scale(1.000 1.04)" font-size="12.9" text-anchor="middle">10-16yr</text>
<text transform="translate(444.95 898.7) scale(1 1.03)" font-size="11" text-anchor="middle">(n=23)</text>
<text transform="translate(489.30 886.3) scale(1.000 1.04)" font-size="12.9" text-anchor="middle">adults</text>
<text transform="translate(489.30 898.7) scale(1 1.03)" font-size="11" text-anchor="middle">(n=51)</text>
<text x="290" y="926.2" font-size="17.6" text-anchor="middle">age groups</text>
</svg></body></html>
